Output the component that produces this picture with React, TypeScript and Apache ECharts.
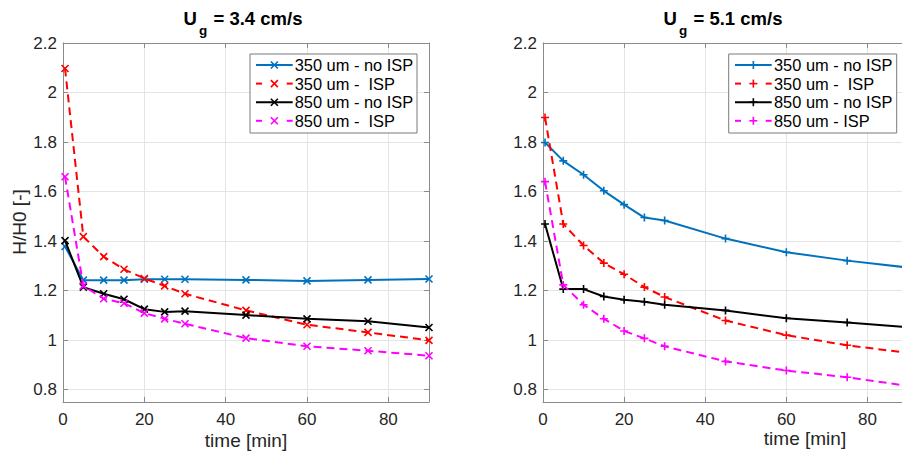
import React, { useEffect, useRef } from "react";
import * as echarts from "echarts";

// ---- data ----
const time = [0.5, 5, 10, 15, 20, 25, 30, 45, 60, 75, 90];

const left350NoIsp = [1.378, 1.242, 1.242, 1.242, 1.246, 1.246, 1.246, 1.243, 1.239, 1.243, 1.247];
const left350Isp = [2.097, 1.418, 1.337, 1.286, 1.249, 1.219, 1.187, 1.12, 1.062, 1.031, 0.999];
const left850NoIsp = [1.402, 1.214, 1.187, 1.165, 1.125, 1.114, 1.117, 1.101, 1.086, 1.076, 1.051];
const left850Isp = [1.66, 1.219, 1.167, 1.149, 1.109, 1.086, 1.066, 1.008, 0.975, 0.957, 0.937];

const right350NoIsp = [1.798, 1.724, 1.668, 1.603, 1.547, 1.495, 1.483, 1.41, 1.355, 1.321, 1.293];
const right350Isp = [1.899, 1.469, 1.382, 1.311, 1.266, 1.214, 1.174, 1.079, 1.02, 0.979, 0.948];
const right850NoIsp = [1.469, 1.206, 1.206, 1.176, 1.163, 1.155, 1.143, 1.12, 1.088, 1.071, 1.052];
const right850Isp = [1.64, 1.223, 1.143, 1.086, 1.037, 1.007, 0.975, 0.914, 0.877, 0.85, 0.815];

const leftLegend = ["350 um - no ISP", "350 um -  ISP", "850 um - no ISP", "850 um -  ISP"];
const rightLegend = ["350 um - no ISP", "350 um -  ISP", "850 um - no ISP", "850 um - ISP"];

const leftTitle = { main: "U", sub: "g", rest: "= 3.4 cm/s" };
const rightTitle = { main: "U", sub: "g", rest: "= 5.1 cm/s" };

const xName = "time [min]";
const yName = "H/H0 [-]";

// ---- styles ----
const FONT = "'Liberation Sans', Arial, Helvetica, sans-serif";
const COLORS = ["#0072BD", "#FF0000", "#000000", "#FF00FF"];
const DASHED = [false, true, false, true];
const AXIS_COLOR = "#8a8a8a";
const GRID_COLOR = "#e4e4e4";
const TICK_COLOR = "#262626";

const CROSS = "path://M0,0L10,10M10,0L0,10";
const PLUS = "path://M5,0L5,10M0,5L10,5";

function xAxes(gridIndex: number) {
  const common = {
    type: "value",
    gridIndex,
    min: 0,
    max: 90,
    interval: 20,
    axisLine: { show: true, onZero: false, lineStyle: { color: AXIS_COLOR, width: 1 } },
    axisTick: { show: true, inside: true, length: 5, lineStyle: { color: AXIS_COLOR } },
  };
  return [
    {
      ...common,
      position: "bottom",
      axisLabel: {
        show: true,
        margin: 9,
        fontSize: 17,
        color: TICK_COLOR,
        fontFamily: FONT,
        showMaxLabel: false,
      },
      splitLine: { show: true, lineStyle: { color: GRID_COLOR, width: 1 } },
    },
    {
      ...common,
      position: "top",
      axisLabel: { show: false },
      splitLine: { show: false },
    },
  ];
}

function yAxes(gridIndex: number) {
  const common = {
    type: "value",
    gridIndex,
    min: 0.75,
    max: 2.2,
    splitNumber: 7,
    minInterval: 0.2,
    maxInterval: 0.2,
    axisLine: { show: true, onZero: false, lineStyle: { color: AXIS_COLOR, width: 1 } },
    axisTick: { show: true, inside: true, length: 5, lineStyle: { color: AXIS_COLOR } },
  };
  return [
    {
      ...common,
      position: "left",
      axisLabel: {
        show: true,
        margin: 6,
        fontSize: 17,
        color: TICK_COLOR,
        fontFamily: FONT,
        showMinLabel: false,
        formatter: (v: number) => String(Math.round(v * 10) / 10),
      },
      splitLine: { show: true, lineStyle: { color: GRID_COLOR, width: 1 } },
    },
    {
      ...common,
      position: "right",
      axisLabel: { show: false },
      splitLine: { show: false },
    },
  ];
}

function makeSeries(
  names: string[],
  sets: number[][],
  axisIndex: number,
  symbol: string,
  symbolSize: number
) {
  return sets.map((vals, i) => ({
    type: "line",
    name: names[i] + (axisIndex === 0 ? "" : " "),
    xAxisIndex: axisIndex,
    yAxisIndex: axisIndex,
    data: time.map((t, j) => [t, vals[j]]),
    symbol,
    symbolSize,
    showSymbol: true,
    lineStyle: { color: COLORS[i], width: 2, type: DASHED[i] ? [8, 5] : "solid" },
    itemStyle: { color: COLORS[i], borderColor: COLORS[i], borderWidth: 1.6 },
    emphasis: { disabled: true },
    z: 2 + i,
  }));
}

function legendGraphics(
  labels: string[],
  boxX: number,
  boxY: number,
  boxW: number,
  boxH: number,
  lineX0: number,
  lineX1: number,
  textX: number,
  rowY0: number,
  rowGap: number,
  marker: "cross" | "plus"
) {
  const els: any[] = [
    {
      type: "rect",
      shape: { x: boxX, y: boxY, width: boxW, height: boxH },
      style: { fill: "#ffffff", stroke: "#7a7a7a", lineWidth: 1 },
      z: 100,
    },
  ];
  const mx = (lineX0 + lineX1) / 2;
  labels.forEach((label, i) => {
    const y = rowY0 + i * rowGap;
    const c = COLORS[i];
    if (DASHED[i]) {
      els.push({
        type: "line",
        shape: { x1: lineX0, y1: y, x2: lineX0 + 6, y2: y },
        style: { stroke: c, lineWidth: 2 },
        z: 101,
      });
      els.push({
        type: "line",
        shape: { x1: lineX1 - 6, y1: y, x2: lineX1, y2: y },
        style: { stroke: c, lineWidth: 2 },
        z: 101,
      });
    } else {
      els.push({
        type: "line",
        shape: { x1: lineX0, y1: y, x2: lineX1, y2: y },
        style: { stroke: c, lineWidth: 2 },
        z: 101,
      });
    }
    if (marker === "cross") {
      const h = 3.5;
      els.push({
        type: "line",
        shape: { x1: mx - h, y1: y - h, x2: mx + h, y2: y + h },
        style: { stroke: c, lineWidth: 1.6 },
        z: 102,
      });
      els.push({
        type: "line",
        shape: { x1: mx - h, y1: y + h, x2: mx + h, y2: y - h },
        style: { stroke: c, lineWidth: 1.6 },
        z: 102,
      });
    } else {
      const h = 4;
      els.push({
        type: "line",
        shape: { x1: mx - h, y1: y, x2: mx + h, y2: y },
        style: { stroke: c, lineWidth: 1.6 },
        z: 102,
      });
      els.push({
        type: "line",
        shape: { x1: mx, y1: y - h, x2: mx, y2: y + h },
        style: { stroke: c, lineWidth: 1.6 },
        z: 102,
      });
    }
    els.push({
      type: "text",
      x: textX,
      y,
      style: {
        text: label,
        fontSize: 16.4,
        fontFamily: FONT,
        fill: "#000000",
        align: "left",
        verticalAlign: "middle",
      },
      z: 102,
    });
  });
  return els;
}

function titleGraphics(t: { main: string; sub: string; rest: string }, ux: number) {
  return [
    {
      type: "text",
      x: ux,
      y: 18,
      style: {
        text: t.main,
        fontSize: 18.5,
        fontWeight: "bold",
        fontFamily: FONT,
        fill: "#000",
        align: "left",
        verticalAlign: "middle",
      },
    },
    {
      type: "text",
      x: ux + 15.5,
      y: 30,
      style: {
        text: t.sub,
        fontSize: 13.5,
        fontWeight: "bold",
        fontFamily: FONT,
        fill: "#000",
        align: "left",
        verticalAlign: "middle",
      },
    },
    {
      type: "text",
      x: ux + 30,
      y: 18,
      style: {
        text: t.rest,
        fontSize: 18.5,
        fontWeight: "bold",
        fontFamily: FONT,
        fill: "#000",
        align: "left",
        verticalAlign: "middle",
      },
    },
  ];
}

const option: any = {
  animation: false,
  backgroundColor: "#ffffff",
  textStyle: { fontFamily: FONT },
  grid: [
    { left: 63, top: 43, width: 366, height: 359, containLabel: false, outerBoundsMode: "none" },
    { left: 543, top: 43, width: 365, height: 359, containLabel: false, outerBoundsMode: "none" },
  ],
  xAxis: [...xAxes(0), ...xAxes(1)],
  yAxis: [...yAxes(0), ...yAxes(1)],
  series: [
    ...makeSeries(leftLegend, [left350NoIsp, left350Isp, left850NoIsp, left850Isp], 0, CROSS, 7),
    ...makeSeries(rightLegend, [right350NoIsp, right350Isp, right850NoIsp, right850Isp], 2, PLUS, 8),
  ],
  graphic: [
    ...titleGraphics(leftTitle, 183.5),
    ...titleGraphics(rightTitle, 663.5),
    {
      type: "text",
      x: 246,
      y: 440,
      style: {
        text: xName,
        fontSize: 19,
        fontFamily: FONT,
        fill: TICK_COLOR,
        align: "center",
        verticalAlign: "middle",
      },
    },
    {
      type: "text",
      x: 805,
      y: 438,
      style: {
        text: xName,
        fontSize: 19,
        fontFamily: FONT,
        fill: TICK_COLOR,
        align: "center",
        verticalAlign: "middle",
      },
    },
    {
      type: "text",
      x: 19,
      y: 222,
      rotation: Math.PI / 2,
      style: {
        text: yName,
        fontSize: 19,
        fontFamily: FONT,
        fill: TICK_COLOR,
        align: "center",
        verticalAlign: "middle",
      },
    },
    ...legendGraphics(leftLegend, 250, 54, 167, 79, 256, 292.7, 294.7, 65, 18.6, "cross"),
    ...legendGraphics(rightLegend, 728.7, 54, 168, 79, 735, 771.7, 774, 65, 18.6, "plus"),
  ],
};

export default function App() {
  const ref = useRef<HTMLDivElement>(null);
  useEffect(() => {
    if (!ref.current) return;
    const chart = echarts.init(ref.current, null, { renderer: "svg", width: 902, height: 453 });
    chart.setOption(option);
    return () => chart.dispose();
  }, []);
  return (
    <div
      ref={ref}
      style={{ position: "absolute", left: 0, top: 0, width: 902, height: 453, background: "#fff", overflow: "hidden" }}
    />
  );
}
